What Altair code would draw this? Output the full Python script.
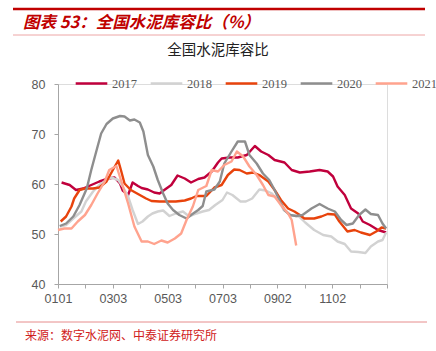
import altair as alt
import pandas as pd

years = ["2017", "2018", "2019", "2020", "2021"]
colors = ["#C0003C", "#D2D2D2", "#E8430C", "#8E8E8E", "#FFA38E"]

d2017 = [4, 13, 20, 28, 37, 46, 56, 63, 69, 72, 78, 83, 89, 93, 100, 107, 113, 119, 126, 133, 141, 148, 156, 163,
         171, 178, 182, 191, 200, 210, 219, 226, 234, 241, 252, 260, 269, 280, 291, 300, 306, 311, 319, 326, 334,
         339, 347, 356, 365]
v2017 = [60.3, 59.8, 58.8, 59.1, 59.8, 60.5, 61.1, 61.3, 60.1, 58.7, 57.8, 60.3, 59.6, 59.2, 58.9, 58.3, 58.1, 58.9,
         59.8, 61.7, 61.1, 60.3, 61.0, 61.3, 62.5, 64.3, 65.1, 65.3, 65.3, 65.8, 67.6, 66.5, 65.8, 64.8, 64.3, 62.8,
         62.3, 62.5, 62.8, 62.5, 61.5, 59.5, 57.8, 55.1, 54.1, 52.5, 51.8, 50.8, 50.3]

d2018 = [2, 9, 17, 26, 31, 39, 46, 54, 59, 67, 72, 78, 83, 89, 94, 100, 105, 111, 117, 124, 131, 139, 146, 154, 161,
         168, 175, 183, 188, 194, 203, 209, 216, 224, 231, 238, 246, 251, 259, 268, 275, 285, 295, 304, 311, 319,
         326, 334, 342, 348, 356, 361, 365]
v2018 = [51.5, 51.8, 53.1, 54.5, 56.5, 58.5, 59.8, 60.8, 61.3, 60.8, 59.5, 57.5, 54.8, 52.0, 52.5, 53.5, 54.1, 54.5,
         54.7, 53.6, 54.1, 54.5, 53.5, 54.1, 54.5, 54.8, 55.8, 56.8, 58.3, 57.8, 56.5, 56.5, 57.1, 58.9, 58.7, 58.1,
         56.5, 54.8, 53.8, 53.5, 52.3, 50.8, 49.8, 49.5, 48.5, 48.0, 46.5, 46.4, 46.2, 47.5, 48.5, 48.8, 50.3]

d2019 = [3, 9, 15, 18, 24, 30, 39, 46, 54, 61, 67, 70, 74, 81, 91, 98, 104, 113, 124, 131, 141, 148, 154, 165, 174,
         182, 189, 196, 202, 210, 217, 224, 234, 241, 248, 256, 263, 269, 274, 285, 293, 300, 308, 313, 322, 330,
         337, 347, 354, 360, 365]
v2019 = [52.5, 53.5, 55.5, 57.1, 58.8, 59.1, 59.1, 59.3, 60.5, 62.8, 64.7, 62.8, 60.1, 58.8, 57.8, 57.1, 56.6, 56.5,
         56.5, 56.5, 56.7, 57.1, 57.6, 57.6, 59.3, 59.8, 61.8, 62.9, 62.8, 62.1, 62.3, 61.8, 60.5, 58.8, 56.8, 55.1,
         54.5, 53.8, 53.1, 53.1, 53.5, 54.0, 53.9, 52.5, 50.5, 50.8, 50.3, 49.8, 50.5, 51.3, 51.1]

d2020 = [2, 9, 17, 24, 32, 37, 43, 48, 54, 61, 69, 74, 80, 85, 91, 95, 100, 106, 111, 117, 122, 128, 135, 143, 148,
         156, 161, 165, 174, 180, 185, 193, 200, 208, 213, 221, 228, 235, 241, 247, 252, 258, 265, 272, 282, 291,
         300, 308, 315, 321, 328, 335, 342, 348, 356, 361, 365]
v2020 = [51.6, 52.1, 53.5, 55.8, 59.1, 62.8, 66.8, 70.1, 72.0, 73.1, 73.6, 73.5, 72.7, 72.9, 72.3, 70.5, 65.8, 63.5,
         60.8, 58.1, 56.1, 54.8, 53.8, 53.1, 53.8, 54.8, 55.6, 58.5, 58.9, 60.5, 64.1, 66.5, 68.5, 68.5, 65.8, 64.1,
         62.1, 60.8, 58.8, 56.5, 54.8, 53.8, 53.6, 53.8, 55.1, 56.0, 55.1, 54.5, 52.8, 51.8, 52.1, 53.8, 54.9, 54.0,
         53.8, 52.1, 51.1]

d2021 = [0, 7, 15, 22, 30, 37, 44, 52, 57, 65, 70, 78, 85, 93, 100, 107, 115, 122, 130, 137, 143, 150, 156, 165, 171,
         178, 185, 193, 199, 206, 213, 221, 228, 234, 241, 248, 256, 260, 265]
v2021 = [50.8, 51.1, 51.1, 52.5, 53.8, 55.8, 58.1, 60.5, 62.8, 63.6, 60.8, 56.1, 51.5, 48.5, 48.5, 48.0, 48.7, 48.3,
         49.1, 50.1, 52.8, 55.5, 58.8, 59.6, 62.8, 62.5, 63.8, 64.5, 66.5, 65.5, 63.5, 61.8, 59.8, 57.8, 57.5, 55.8,
         54.1, 52.8, 47.7]

tick_values = [i * 30.5 for i in range(13)]

rows = []
for yr, ds, vs in [("2017", d2017, v2017), ("2018", d2018, v2018), ("2019", d2019, v2019),
                   ("2020", d2020, v2020), ("2021", d2021, v2021)]:
    for i, (d, v) in enumerate(zip(ds, vs)):
        rows.append({"year": yr, "day": d, "value": v, "order": i})
df = pd.DataFrame(rows)

W, H = 329, 200
axis_color = "#A6A6A6"
label_color = "#595959"

lines = alt.Chart(df).mark_line(strokeWidth=2.4, strokeJoin="round").encode(
    x=alt.X("day:Q", scale=alt.Scale(domain=[0, 366], nice=False, zero=False),
            axis=alt.Axis(values=tick_values, grid=False, domainColor=axis_color, tickColor=axis_color,
                          tickSize=4, labelColor=label_color, labelFont="Liberation Sans", labelFontSize=12.5,
                          labelPadding=4, title=None, labelFlush=False, labelOverlap=False,
                          labelExpr="(datum.value % 61 == 0 && datum.value < 360) ? timeFormat(datetime(2021, 0, 1 + datum.value), '%m%d') : ''")),
    y=alt.Y("value:Q", scale=alt.Scale(domain=[40, 80], nice=False, zero=False),
            axis=alt.Axis(values=[40, 50, 60, 70, 80], grid=False, domainColor=axis_color, tickColor=axis_color,
                          tickSize=4, labelColor=label_color, labelFont="Liberation Sans", labelFontSize=12.5,
                          labelPadding=9, title=None)),
    color=alt.Color("year:N", scale=alt.Scale(domain=years, range=colors),
                    legend=alt.Legend(orient="none", legendX=16, legendY=-18, direction="horizontal",
                                      title=None, symbolType="stroke", symbolSize=1000, symbolStrokeWidth=2.6,
                                      labelFont="Liberation Serif", labelFontSize=12.5, labelColor=label_color,
                                      labelOffset=3, columnPadding=8)),
    order="order:Q",
)

# decorative header / footer
header_rule = alt.Chart().mark_rule(color="#C00000", strokeWidth=2.5).encode(
    x=alt.value(-45), x2=alt.value(367), y=alt.value(-75))
header_thin = alt.Chart().mark_rule(color="#E89090", strokeWidth=0.8).encode(
    x=alt.value(-45), x2=alt.value(367), y=alt.value(-49))
footer_rule = alt.Chart().mark_rule(color="#E07070", strokeWidth=0.8).encode(
    x=alt.value(-42), x2=alt.value(369), y=alt.value(238))

header_text = alt.Chart().mark_text(text="图表 53：全国水泥库容比（%）", color="#C00000", font="Noto Sans CJK SC",
                                    fontSize=16.5, fontWeight="bold", fontStyle="italic", align="left",
                                    baseline="middle").encode(x=alt.value(-35), y=alt.value(-61))
title_text = alt.Chart().mark_text(text="全国水泥库容比", color="#222222", font="Noto Sans CJK SC",
                                   fontSize=14.5, align="center", baseline="middle").encode(
    x=alt.value(160), y=alt.value(-33))
source_text = alt.Chart().mark_text(text="来源：数字水泥网、中泰证券研究所", color="#D02020", font="Noto Sans CJK SC",
                                    fontSize=12, align="left", baseline="middle").encode(
    x=alt.value(-33), y=alt.value(252))

chart = alt.layer(lines, header_rule, header_thin, footer_rule, header_text, title_text, source_text).properties(
    width=W, height=H,
    padding={"left": 58, "top": 84, "right": 49, "bottom": 67},
    autosize=alt.AutoSizeParams(type="none"),
).configure_view(stroke=None).configure(background="white")

chart.save("out.html", embed_options={"renderer": "svg", "actions": False})
